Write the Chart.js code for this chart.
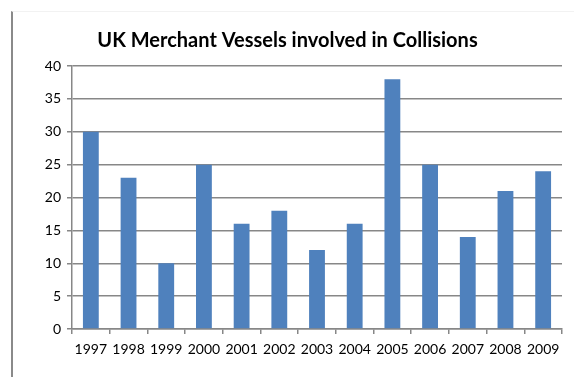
<!DOCTYPE html>
<html>
<head>
<meta charset="utf-8">
<script src="https://cdn.jsdelivr.net/npm/chart.js@4"></script>
<style>
  html, body { margin: 0; padding: 0; background: #fff; }
  #frame {
    position: absolute; left: 11px; top: 11px; width: 561px; height: 366px;
    border-left: 2px solid #8a8a8a; border-top: 1px solid #f2f2f2;
  }
  #wrap { position: absolute; left: 0; top: 0; width: 561px; height: 366px; }
</style>
</head>
<body>
<div id="frame"><div id="wrap"><canvas id="myChart"></canvas></div></div>
<script>
'use strict';

const years = ['1997', '1998', '1999', '2000', '2001', '2002', '2003',
  '2004', '2005', '2006', '2007', '2008', '2009'];
const collisions = [30, 23, 10, 25, 16, 18, 12, 16, 38, 25, 14, 21, 24];
const yTicks = [0, 5, 10, 15, 20, 25, 30, 35, 40];

const ctx = document.getElementById('myChart');
const font = { family: 'Lato', size: 14 };

new Chart(ctx, {
  type: 'bar',
  data: {
    labels: years,
    datasets: [{
      label: 'Collisions',
      data: collisions,
      backgroundColor: '#4f81bd',
      categoryPercentage: 1,
      barPercentage: 0.42
    }]
  },
  options: {
    responsive: true,
    maintainAspectRatio: false,
    animation: false,
    layout: { padding: { left: 0, right: 12, top: 0, bottom: 0 } },
    plugins: {
      legend: { display: false },
      tooltip: { enabled: false },
      title: {
        display: true,
        text: 'UK Merchant Vessels involved in Collisions',
        color: '#000',
        font: { family: 'Lato', size: 20, weight: 'bold', lineHeight: 1.1 },
        padding: { top: 18, bottom: 14 }
      }
    },
    scales: {
      x: {
        grid: { drawOnChartArea: false, color: '#878787', lineWidth: 1.5, tickLength: 5 },
        border: { color: '#878787', width: 1.5 },
        ticks: { color: '#000', font: font, maxRotation: 0, padding: 7 },
        afterFit: (scale) => { scale.height = 49; }
      },
      y: {
        min: 0,
        max: 40,
        afterBuildTicks: (scale) => { scale.ticks = yTicks.map(v => ({ value: v })); },
        grid: { color: '#878787', lineWidth: 1.5, tickLength: 5 },
        border: { color: '#878787', width: 1.5 },
        ticks: { color: '#000', font: font, padding: 6 },
        afterFit: (scale) => { scale.width = 59; }
      }
    }
  }
});
</script>
</body>
</html>
